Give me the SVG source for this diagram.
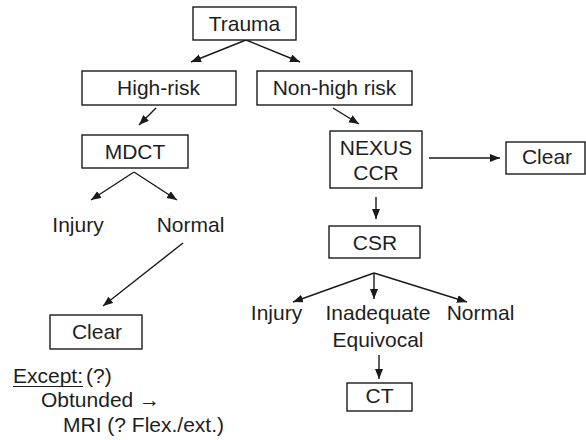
<svg xmlns="http://www.w3.org/2000/svg" width="586" height="440" viewBox="0 0 586 440">
  <defs>
    <marker id="arrow" markerUnits="userSpaceOnUse" markerWidth="11" markerHeight="9" refX="10" refY="4" orient="auto">
      <path d="M0,0 L10,4 L0,8 z" fill="#1a1a1a"/>
    </marker>
    <style>
      .box { fill: #fff; stroke: #1a1a1a; stroke-width: 1.4; }
      .lbl { font-family: "Liberation Sans", Arial, sans-serif; font-size: 21px; fill: #1e1e1e; text-anchor: middle; }
      .note { font-family: "Liberation Sans", Arial, sans-serif; font-size: 21px; fill: #1e1e1e; }
      .edge { stroke: #1a1a1a; stroke-width: 1.4; fill: none; marker-end: url(#arrow); }
    </style>
  </defs>
  <rect width="586" height="440" fill="#fff"/>

  <g id="connectors">
    <line class="edge" x1="246" y1="40" x2="191" y2="62"/>
    <line class="edge" x1="246" y1="40" x2="300" y2="62"/>
    <line class="edge" x1="156" y1="108" x2="139" y2="125"/>
    <line class="edge" x1="134" y1="172" x2="91" y2="200"/>
    <line class="edge" x1="134" y1="172" x2="177" y2="200"/>
    <line class="edge" x1="183" y1="243" x2="103" y2="306"/>
    <line class="edge" x1="333" y1="108" x2="359" y2="124"/>
    <line class="edge" x1="429" y1="158" x2="500" y2="158"/>
    <line class="edge" x1="376" y1="197" x2="376" y2="219"/>
    <line class="edge" x1="374" y1="273" x2="293" y2="302"/>
    <line class="edge" x1="374" y1="273" x2="374" y2="299"/>
    <line class="edge" x1="374" y1="273" x2="467" y2="302"/>
    <line class="edge" x1="379" y1="355" x2="379" y2="379"/>
  </g>

  <g id="trauma">
    <rect class="box" x="193" y="7" width="103" height="33"/>
    <text class="lbl" x="244.5" y="31">Trauma</text>
  </g>
  <g id="high-risk">
    <rect class="box" x="82" y="71" width="154" height="34"/>
    <text class="lbl" x="158.5" y="95">High-risk</text>
  </g>
  <g id="non-high-risk">
    <rect class="box" x="257" y="71" width="155" height="34"/>
    <text class="lbl" x="334.5" y="95">Non-high risk</text>
  </g>
  <g id="mdct">
    <rect class="box" x="82" y="135" width="106" height="33"/>
    <text class="lbl" x="135" y="159">MDCT</text>
  </g>
  <g id="mdct-injury">
    <text class="lbl" x="78" y="232">Injury</text>
  </g>
  <g id="mdct-normal">
    <text class="lbl" x="190.5" y="232">Normal</text>
  </g>
  <g id="clear-left">
    <rect class="box" x="50" y="315" width="92" height="34"/>
    <text class="lbl" x="97" y="339">Clear</text>
  </g>
  <g id="except-note">
    <text class="note" x="13" y="383">Except:</text>
    <line x1="13" y1="386.5" x2="83" y2="386.5" stroke="#1e1e1e" stroke-width="1.2"/>
    <text class="note" x="86" y="383">(?)</text>
    <text class="note" x="41" y="407">Obtunded →</text>
    <text class="note" x="63" y="432">MRI (? Flex./ext.)</text>
  </g>
  <g id="nexus-ccr">
    <rect class="box" x="330" y="131" width="92" height="57"/>
    <text class="lbl" x="376" y="155">NEXUS</text>
    <text class="lbl" x="376" y="180">CCR</text>
  </g>
  <g id="clear-right">
    <rect class="box" x="506" y="142" width="79" height="32"/>
    <text class="lbl" x="547" y="164">Clear</text>
  </g>
  <g id="csr">
    <rect class="box" x="329" y="226" width="91" height="32"/>
    <text class="lbl" x="375" y="250">CSR</text>
  </g>
  <g id="csr-injury">
    <text class="lbl" x="276.5" y="320">Injury</text>
  </g>
  <g id="csr-inadequate">
    <text class="lbl" x="378" y="320">Inadequate</text>
    <text class="lbl" x="378" y="347">Equivocal</text>
  </g>
  <g id="csr-normal">
    <text class="lbl" x="480.5" y="320">Normal</text>
  </g>
  <g id="ct">
    <rect class="box" x="347" y="383" width="65" height="28"/>
    <text class="lbl" x="379.5" y="403">CT</text>
  </g>
</svg>
